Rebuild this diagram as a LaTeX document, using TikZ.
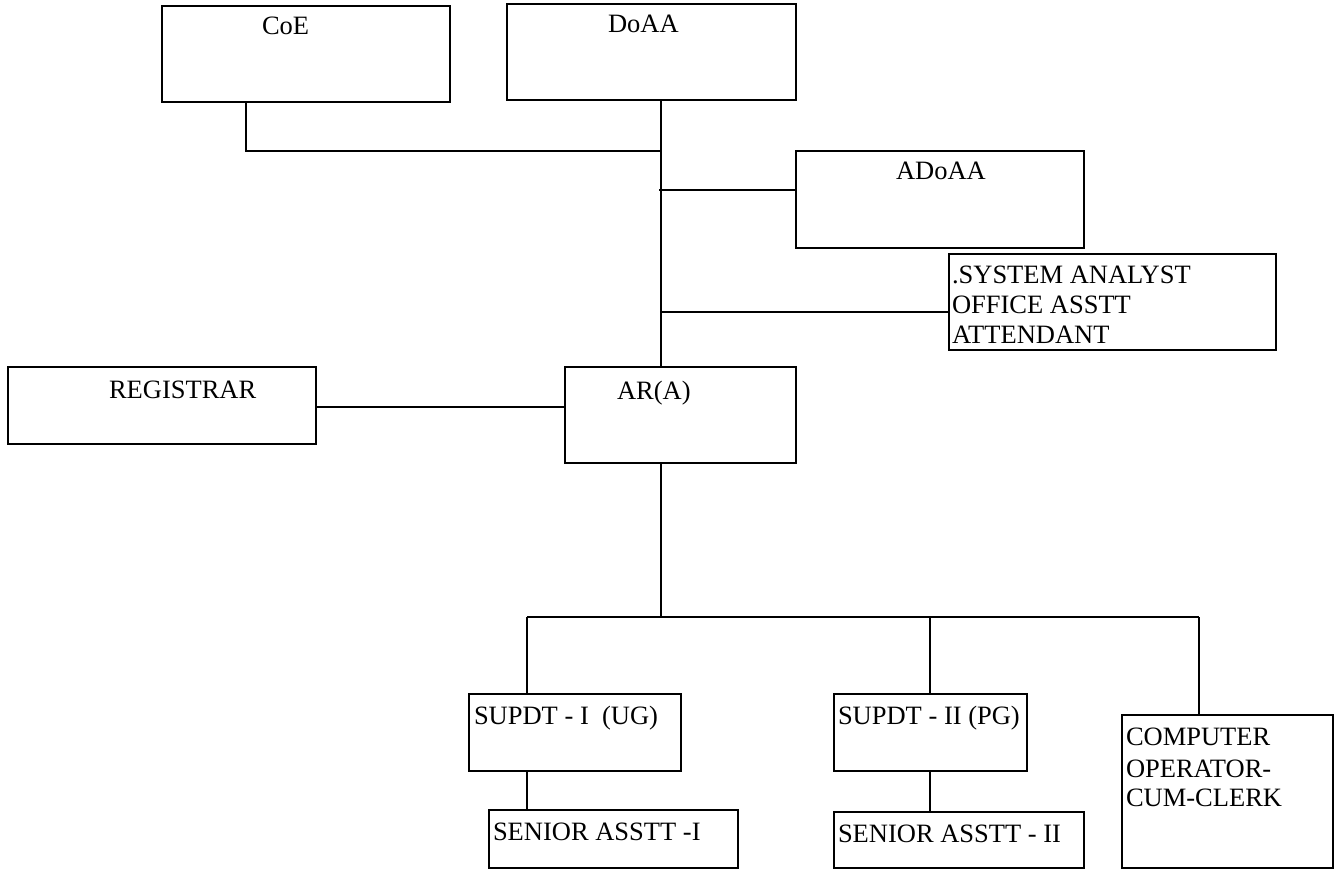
\documentclass[tikz,border=0pt]{standalone}
\usepackage{fontspec}
\setmainfont{Liberation Serif}
\begin{document}
\begin{tikzpicture}[x=1pt,y=-1pt,
  box/.style={draw=black,line width=1.6pt,inner sep=0pt,outer sep=0pt,anchor=north west},
  txt/.style={anchor=base west,inner sep=0pt,outer sep=0pt,font=\fontsize{26.5}{30.5}\selectfont},
  conn/.style={draw=black,line width=1.3pt}]
\useasboundingbox (0,0) rectangle (1338,869);
% boxes
\node[box,minimum width=288pt,minimum height=96pt] (coe) at (162,6) {};
\node[box,minimum width=289pt,minimum height=96pt] (doaa) at (507,4) {};
\node[box,minimum width=288pt,minimum height=97pt] (adoaa) at (796,151) {};
\node[box,minimum width=327pt,minimum height=96pt] (sys) at (949,254) {};
\node[box,minimum width=308pt,minimum height=77pt] (reg) at (8,367) {};
\node[box,minimum width=231pt,minimum height=96pt] (ara) at (565,367) {};
\node[box,minimum width=212pt,minimum height=77pt] (sup1) at (469,694) {};
\node[box,minimum width=193pt,minimum height=77pt] (sup2) at (834,694) {};
\node[box,minimum width=211pt,minimum height=153pt] (comp) at (1122,715) {};
\node[box,minimum width=249pt,minimum height=58pt] (sen1) at (489,810) {};
\node[box,minimum width=250pt,minimum height=56pt] (sen2) at (834,812) {};
% texts
\node[txt] (coeT) at (262,35) {CoE};
\node[txt] (doaaT) at (608,33) {DoAA};
\node[txt] (adoaaT) at (896,180) {ADoAA};
\node[txt] (sysT1) at (952,283) {.SYSTEM ANALYST};
\node[txt] (sysT2) at (952,313) {OFFICE ASSTT};
\node[txt] (sysT3) at (952,343) {ATTENDANT};
\node[txt] (regT) at (109,398) {REGISTRAR};
\node[txt] (araT) at (617,399) {AR(A)};
\node[txt] (sup1T) at (474,724) {SUPDT - I\ \ (UG)};
\node[txt] (sup2T) at (838,724) {SUPDT - II (PG)};
\node[txt] (sen1T) at (493,840) {SENIOR ASSTT -I};
\node[txt] (sen2T) at (838,842) {SENIOR ASSTT - II};
\node[txt] (compT1) at (1126,745) {COMPUTER};
\node[txt] (compT2) at (1126,777) {OPERATOR-};
\node[txt] (compT3) at (1126,806) {CUM-CLERK};
% junction coordinates
\coordinate (trunk) at (661,0);
\coordinate (coeDrop) at (246,0);
\coordinate (jCoe) at (661,151);
\coordinate (jAd) at (659,190);
\coordinate (jSys) at (661,312);
\coordinate (jReg) at (0,407);
\coordinate (bus) at (0,617);
\coordinate (d1) at (527,0);
\coordinate (d2) at (930,0);
\coordinate (d3) at (1199,0);
% connectors
\draw[conn] (coe.south -| coeDrop) |- (jCoe);
\draw[conn] (doaa.south -| trunk) -- (ara.north -| trunk);
\draw[conn] (jAd) -- (adoaa.west |- jAd);
\draw[conn] (jSys) -- (sys.west |- jSys);
\draw[conn] (reg.east |- jReg) -- (ara.west |- jReg);
\draw[conn] (ara.south -| trunk) -- (bus -| trunk);
\draw[conn] (bus -| d1) -- (bus -| d3);
\draw[conn] (bus -| d1) -- (sup1.north -| d1);
\draw[conn] (bus -| d2) -- (sup2.north -| d2);
\draw[conn] (bus -| d3) -- (comp.north -| d3);
\draw[conn] (sup1.south -| d1) -- (sen1.north -| d1);
\draw[conn] (sup2.south -| d2) -- (sen2.north -| d2);
\end{tikzpicture}
\end{document}
